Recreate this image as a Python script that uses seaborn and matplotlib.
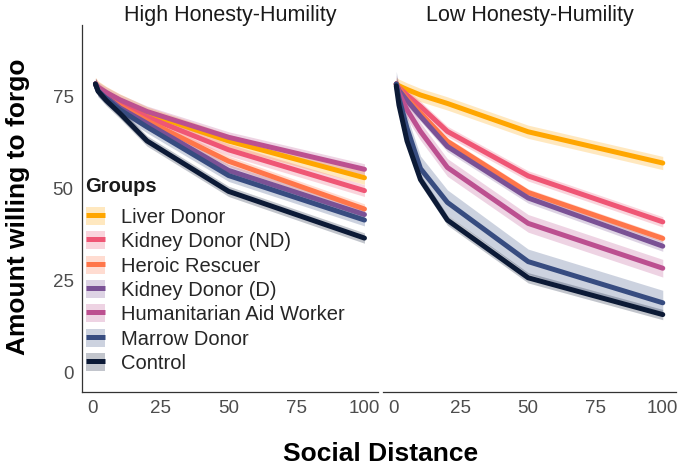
import numpy as np
import pandas as pd
import matplotlib
matplotlib.use("Agg")
import matplotlib.pyplot as plt
from matplotlib.patches import Patch
from matplotlib.lines import Line2D
from matplotlib.legend_handler import HandlerTuple
import seaborn as sns

# ---- data ----
social_distance = [1, 2, 5, 10, 20, 50, 100]
groups = ["Liver Donor", "Kidney Donor (ND)", "Heroic Rescuer", "Kidney Donor (D)",
          "Humanitarian Aid Worker", "Marrow Donor", "Control"]
colors = ["#FFA600", "#EF5675", "#FF764A", "#7A5195", "#BC5090", "#374C80", "#0C1A36"]
panels = ["High Honesty-Humility", "Low Honesty-Humility"]

high_liver = [78.5, 77.5, 76.0, 74.0, 70.5, 63.0, 53.0]
high_kidney_nd = [78.5, 77.2, 75.5, 73.0, 69.5, 60.6, 49.5]
high_heroic = [78.5, 77.0, 75.0, 72.5, 68.5, 57.5, 44.5]
high_kidney_d = [78.5, 77.0, 75.0, 72.0, 67.8, 55.0, 43.0]
high_humanitarian = [78.5, 77.6, 76.2, 74.2, 71.0, 64.0, 55.3]
high_marrow = [78.5, 76.6, 74.5, 71.5, 66.8, 53.6, 41.5]
high_control = [78.5, 76.5, 74.0, 70.5, 63.0, 49.3, 36.6]

low_liver = [78.5, 78.0, 77.0, 75.5, 73.2, 65.5, 57.0]
low_kidney_nd = [78.5, 77.5, 75.5, 72.4, 65.6, 53.5, 41.0]
low_heroic = [78.5, 77.2, 74.5, 70.6, 62.9, 49.0, 36.5]
low_kidney_d = [78.5, 76.8, 74.0, 69.7, 61.5, 47.5, 34.4]
low_humanitarian = [78.5, 76.0, 71.5, 65.6, 55.8, 40.6, 28.4]
low_marrow = [78.5, 74.7, 66.5, 55.5, 46.3, 30.2, 19.0]
low_control = [78.0, 72.8, 63.0, 52.5, 41.5, 25.8, 15.8]

high_ci = [1.8, 1.6, 1.4, 1.6, 1.5, 1.6, 1.4]
low_ci = [1.8, 1.4, 1.0, 1.4, 2.4, 3.4, 1.4]

high_values = [high_liver, high_kidney_nd, high_heroic, high_kidney_d,
               high_humanitarian, high_marrow, high_control]
low_values = [low_liver, low_kidney_nd, low_heroic, low_kidney_d,
              low_humanitarian, low_marrow, low_control]

rows = []
for panel, vals, cis in [(panels[0], high_values, high_ci), (panels[1], low_values, low_ci)]:
    for g, v, c in zip(groups, vals, cis):
        for x, y in zip(social_distance, v):
            rows.append({"panel": panel, "group": g, "x": x, "y": y,
                         "lo": y - c, "hi": y + c})
df = pd.DataFrame(rows)

# ---- style ----
sns.set_theme(style="white")
plt.rcParams["font.family"] = ["Liberation Sans", "DejaVu Sans"]

fig = plt.figure(figsize=(6.85, 4.67), dpi=100)
ax1 = fig.add_axes([0.1197, 0.161, 0.432, 0.786])
ax2 = fig.add_axes([0.559, 0.161, 0.428, 0.786])
palette = dict(zip(groups, colors))
LW = 3.6

for ax, panel in [(ax1, panels[0]), (ax2, panels[1])]:
    sub = df[df.panel == panel]
    for g in groups:
        s = sub[sub.group == g]
        ax.fill_between(s.x, s.lo, s.hi, color=palette[g], alpha=0.25, linewidth=0)
    sns.lineplot(data=sub, x="x", y="y", hue="group", hue_order=groups,
                 palette=palette, linewidth=LW, ax=ax, legend=False,
                 errorbar=None, sort=True)
    ax.set_xlim(-3.95, 104.95)
    ax.set_ylim(-5.2, 94.6)
    ax.set_xticks([0, 25, 50, 75, 100])
    ax.set_xticklabels(["0", "25", "50", "75", "100"])
    ax.tick_params(axis="both", length=0, labelsize=13.5, labelcolor="#4D4D4D", pad=6)
    ax.set_xlabel("")
    ax.set_ylabel("")
    ax.set_title(panel, fontsize=15.5, color="#1A1A1A", pad=3)
    for sp in ["top", "right"]:
        ax.spines[sp].set_visible(False)
    ax.spines["bottom"].set_color("#333333")
    ax.spines["bottom"].set_linewidth(0.9)

ax1.set_yticks([0, 25, 50, 75])
ax1.spines["left"].set_color("#333333")
ax1.spines["left"].set_linewidth(0.9)
ax2.spines["left"].set_visible(False)
ax2.set_yticks([])

fig.text(0.555, 0.027, "Social Distance", ha="center", va="center",
         fontsize=19, fontweight="bold", color="black")
fig.text(0.027, 0.557, "Amount willing to forgo", ha="center", va="center",
         rotation=90, fontsize=19, fontweight="bold", color="black")

# legend title
fig.text(0.125, 1 - 187 / 467, "Groups", ha="left", va="center",
         fontsize=14.5, fontweight="bold", color="#1A1A1A")

handles = []
for g in groups:
    handles.append((Patch(facecolor=palette[g], alpha=0.25, edgecolor="none"),
                    Line2D([0], [0], color=palette[g], linewidth=LW,
                           solid_capstyle="butt")))
leg = ax1.legend(handles, groups, loc="upper left",
                 bbox_to_anchor=(0.126, 1 - 207 / 467), bbox_transform=fig.transFigure,
                 frameon=False, fontsize=14.5,
                 handler_map={tuple: HandlerTuple(ndivide=1, pad=0)},
                 handlelength=0.95, handleheight=1.0, handletextpad=0.75,
                 labelspacing=0.22, borderaxespad=0, borderpad=0)

fig.savefig("out.png", dpi=100)
